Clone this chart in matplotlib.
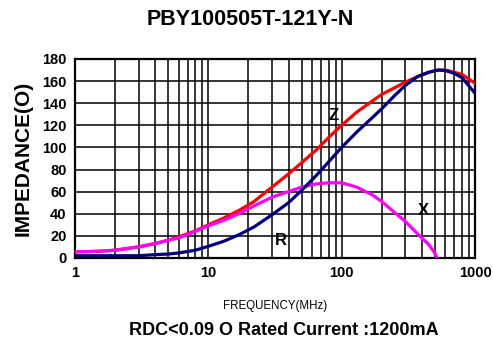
import matplotlib
matplotlib.use("Agg")
import matplotlib.pyplot as plt
from matplotlib import font_manager
from matplotlib.ticker import LogLocator, FixedLocator, NullFormatter

plt.rcParams['font.family'] = ['Liberation Sans', 'DejaVu Sans']

# frequency points (MHz)
freq = [1, 1.5, 2, 3, 4, 5, 6, 8, 10, 13, 17, 22, 30, 40, 50, 65, 80, 100,
        130, 170, 200, 250, 300, 370, 450, 530, 600, 700, 800, 1000]
z_vals = [5.5, 6, 7, 10, 13, 16, 19, 24.5, 30, 36, 43, 51, 64, 76, 86, 98, 109, 120,
          132, 142, 148, 154, 159, 164, 168, 170, 170, 168, 166, 158]
r_vals = [2, 2, 2, 2, 3, 3.5, 4.5, 7, 10.5, 15, 21, 28, 39, 50, 61, 75, 87, 100,
          114, 127, 135, 147, 156, 164, 168, 170, 169.5, 167, 163, 149]

freq_x = [1, 1.5, 2, 3, 4, 5, 6, 8, 10, 13, 17, 22, 30, 40, 50, 65, 80, 100,
          130, 170, 200, 250, 300, 370, 450, 490, 520]
x_vals = [5.5, 6, 7, 10, 13, 16, 18, 24, 29, 34, 40, 47, 55, 60, 64, 67, 68, 68,
          64, 57, 51, 41, 33, 22, 12, 6, 0]

yticks = [0, 20, 40, 60, 80, 100, 120, 140, 160, 180]
xticks = [1, 10, 100, 1000]
xtick_labels = ['1', '10', '100', '1000']

# narrow face for the tall y label if it is there
names = {f.name for f in font_manager.fontManager.ttflist}
if 'Liberation Sans Narrow' in names:
    ylab_family, ylab_size = ['Liberation Sans Narrow', 'Liberation Sans'], 18
else:
    ylab_family, ylab_size = ['Liberation Sans'], 15

fig = plt.figure(figsize=(4.93, 3.43), dpi=100)
ax = fig.add_axes([0.152, 0.248, 0.8115, 0.58])

ax.plot(freq, z_vals, color='#ff0000', lw=2.3, zorder=3)
ax.plot(freq, r_vals, color='#000080', lw=2.3, zorder=4)
ax.plot(freq_x, x_vals, color='#ff00ff', lw=2.3, zorder=3)

ax.set_xscale('log')
ax.set_xlim(1, 1000)
ax.set_ylim(0, 180)
ax.xaxis.set_major_locator(FixedLocator(xticks))
ax.set_xticklabels(xtick_labels)
ax.xaxis.set_minor_locator(LogLocator(base=10, subs=range(2, 10)))
ax.xaxis.set_minor_formatter(NullFormatter())
ax.set_yticks(yticks)

ax.grid(True, which='both', axis='x', color='black', lw=1.1)
ax.grid(True, which='major', axis='y', color='black', lw=1.1)
ax.tick_params(which='both', length=0, labelsize=10.5, pad=6)
for lab in ax.get_xticklabels() + ax.get_yticklabels():
    lab.set_fontweight('bold')
for sp in ax.spines.values():
    sp.set_linewidth(1.6)

# curve labels
ax.text(87, 129, 'Z', fontsize=12, fontweight='bold', ha='center', va='center')
ax.text(35, 16, 'R', fontsize=12, fontweight='bold', ha='center', va='center')
ax.text(413, 43, 'X', fontsize=12, fontweight='bold', ha='center', va='center')

ax.set_ylabel('IMPEDANCE(O)', fontsize=ylab_size, fontweight='bold',
              family=ylab_family, labelpad=7)
ax.set_xlabel('FREQUENCY(MHz)', fontsize=8.3, labelpad=14)

fig.text(0.507, 0.942, 'PBY100505T-121Y-N', fontsize=15.5, fontweight='bold',
         ha='center', va='center')
fig.text(0.575, 0.035, 'RDC<0.09 O Rated Current :1200mA', fontsize=13,
         fontweight='bold', ha='center', va='center')

plt.savefig('out.png', dpi=100)
plt.close()
